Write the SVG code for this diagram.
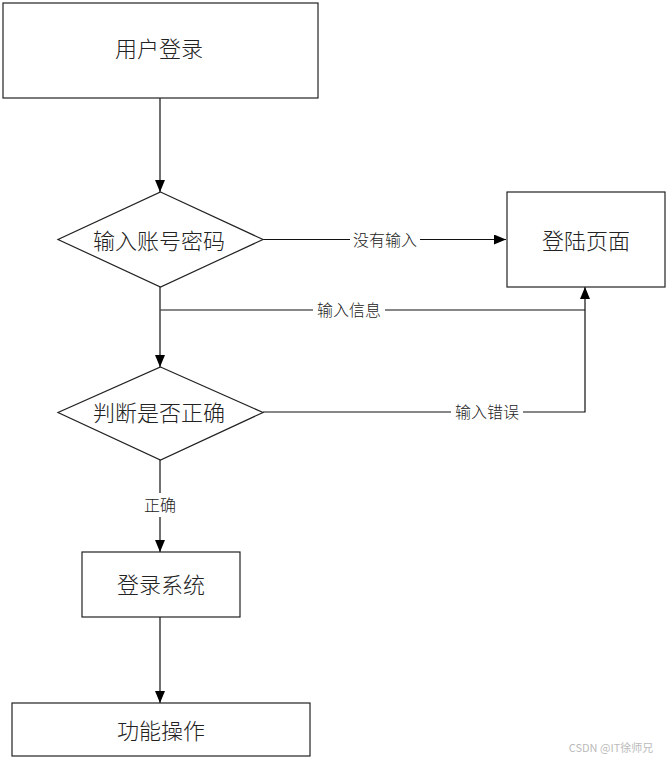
<svg xmlns="http://www.w3.org/2000/svg" width="669" height="761" viewBox="0 0 669 761">
<style>
.box{fill:#fff;stroke:#222;stroke-width:1.2}
.t{font-family:"Noto Sans CJK SC","Liberation Serif",serif;font-size:22px;fill:#222;text-anchor:middle;dominant-baseline:central;font-weight:300}
.lb{font-family:"Noto Sans CJK SC","Liberation Serif",serif;font-size:16px;fill:#222;text-anchor:middle;dominant-baseline:central;font-weight:300}
.ln{fill:none;stroke:#111;stroke-width:1.2}
.bg{fill:#fff}
</style>
<defs>
<marker id="ah" viewBox="0 0 12 10" refX="12" refY="5" markerWidth="12" markerHeight="10" markerUnits="userSpaceOnUse" orient="auto">
<path d="M0,0 L12,5 L0,10 Z" fill="#000"/>
</marker>
</defs>
<rect width="669" height="761" fill="#fff"/>
<g id="connectors">
<path class="ln" d="M160,98 V192" marker-end="url(#ah)"/>
<path class="ln" d="M263,239.5 H506" marker-end="url(#ah)"/>
<path class="ln" d="M160,287 V367" marker-end="url(#ah)"/>
<path class="ln" d="M585,310 H160.5"/>
<path class="ln" d="M263,412 H585 V287" marker-end="url(#ah)"/>
<path class="ln" d="M160,460 V552" marker-end="url(#ah)"/>
<path class="ln" d="M160,617 V703" marker-end="url(#ah)"/>
<rect class="bg" x="350" y="229" width="70" height="22"/>
<text class="lb" x="385" y="239">没有输入</text>
<rect class="bg" x="313" y="299" width="72" height="22"/>
<text class="lb" x="349" y="309">输入信息</text>
<rect class="bg" x="451" y="401" width="72" height="22"/>
<text class="lb" x="487" y="411">输入错误</text>
<rect class="bg" x="142" y="493" width="36" height="24"/>
<text class="lb" x="160" y="504">正确</text>
</g>
<g id="n1">
<rect class="box" x="3" y="3" width="315" height="95"/>
<text class="t" x="159" y="47">用户登录</text>
</g>
<g id="n2">
<polygon class="box" points="160.5,192 263,239.5 160.5,287 58,239.5"/>
<text class="t" x="159" y="239">输入账号密码</text>
</g>
<g id="n3">
<rect class="box" x="507" y="192" width="158" height="95"/>
<text class="t" x="586" y="239">登陆页面</text>
</g>
<g id="n4">
<polygon class="box" points="160.5,367 263,412.5 160.5,460 58,412.5"/>
<text class="t" x="159" y="411">判断是否正确</text>
</g>
<g id="n5">
<rect class="box" x="82" y="552" width="158" height="65"/>
<text class="t" x="161" y="583">登录系统</text>
</g>
<g id="n6">
<rect class="box" x="12" y="703" width="298" height="53"/>
<text class="t" x="161" y="729">功能操作</text>
</g>
<text x="611" y="747" font-family="Noto Sans CJK SC,Liberation Sans,sans-serif" font-size="11" fill="#bbb" text-anchor="middle" dominant-baseline="central">CSDN @IT徐师兄</text>
</svg>
